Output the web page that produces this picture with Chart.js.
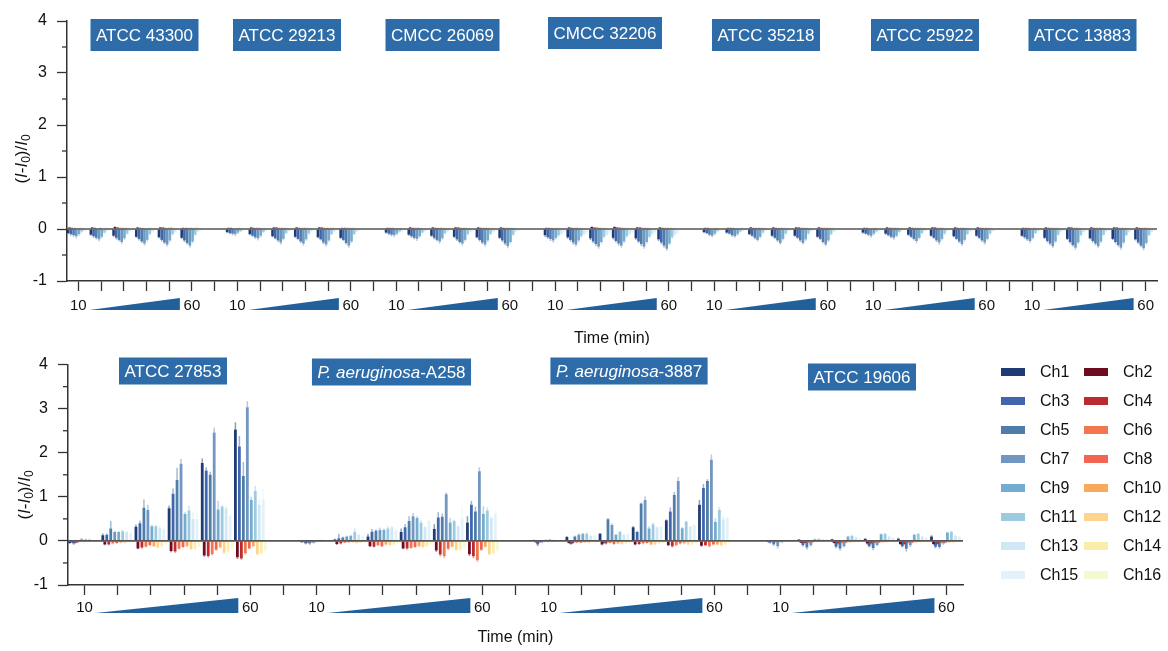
<!DOCTYPE html>
<html>
<head>
<meta charset="utf-8">
<title>Channel response by strain</title>
<script src="https://cdn.jsdelivr.net/npm/chart.js@4.4.1/dist/chart.umd.min.js"></script>
<style>
  html, body { margin: 0; padding: 0; background: #fff; }
  #wrap { position: relative; width: 1168px; height: 651px; }
  .panel { position: absolute; left: 0; width: 1168px; }
  #topPanel { top: 0; height: 345px; }
  #bottomPanel { top: 345px; height: 306px; }
</style>
</head>
<body>
<div id="wrap">
  <div class="panel" id="topPanel"><canvas id="topChart"></canvas></div>
  <div class="panel" id="bottomPanel"><canvas id="bottomChart"></canvas></div>
</div>
<script>
const FONT = '"Liberation Sans", Arial, Helvetica, sans-serif';

const timePoints = [10, 20, 30, 40, 50, 60];
const channels = ['Ch1', 'Ch2', 'Ch3', 'Ch4', 'Ch5', 'Ch6', 'Ch7', 'Ch8',
                  'Ch9', 'Ch10', 'Ch11', 'Ch12', 'Ch13', 'Ch14', 'Ch15', 'Ch16'];
const channelColors = ['#1f3b73', '#6e0b20', '#3f66ae', '#bb2a2e', '#4e7ea8', '#f2774e', '#7196c1', '#f26552',
                       '#72acce', '#f6aa5c', '#9ecae0', '#fdd38d', '#d0e8f5', '#faedaa', '#e5f1f8', '#f5f9d3'];

// strain names, each as text parts [text, italic]
const topStrains = [
  [['ATCC 43300', false]], [['ATCC 29213', false]], [['CMCC 26069', false]], [['CMCC 32206', false]],
  [['ATCC 35218', false]], [['ATCC 25922', false]], [['ATCC 13883', false]]
];
const bottomStrains = [
  [['ATCC 27853', false]],
  [['P. aeruginosa', true], ['-A258', false]],
  [['P. aeruginosa', true], ['-3887', false]],
  [['ATCC 19606', false]]
];

// (I-I0)/I0 per time point (rows) and channel (columns)
const atcc43300 = [
  [-0.08, 0.03, -0.10, 0.02, -0.12, 0.02, -0.14, 0.01, -0.10, 0.02, -0.05, 0.02, -0.03, 0.01, -0.02, 0.01],
  [-0.11, 0.03, -0.14, 0.02, -0.17, 0.01, -0.20, 0.02, -0.15, 0.01, -0.07, 0.02, -0.03, 0.01, -0.02, 0.01],
  [-0.13, 0.04, -0.17, 0.03, -0.21, 0.02, -0.25, 0.02, -0.18, 0.02, -0.09, 0.02, -0.04, 0.01, -0.02, 0.01],
  [-0.15, 0.03, -0.19, 0.02, -0.24, 0.02, -0.28, 0.01, -0.21, 0.02, -0.10, 0.02, -0.04, 0.02, -0.02, 0.01],
  [-0.16, 0.03, -0.21, 0.03, -0.26, 0.02, -0.30, 0.02, -0.22, 0.03, -0.10, 0.02, -0.05, 0.01, -0.02, 0.01],
  [-0.17, 0.02, -0.22, 0.02, -0.27, 0.02, -0.32, 0.02, -0.24, 0.02, -0.11, 0.03, -0.05, 0.01, -0.03, 0.01]
];
const atcc29213 = [
  [-0.06, 0.02, -0.08, 0.02, -0.09, 0.01, -0.10, 0.01, -0.07, 0.02, -0.04, 0.01, -0.02, 0.01, -0.01, 0.01],
  [-0.10, 0.03, -0.13, 0.02, -0.16, 0.02, -0.18, 0.02, -0.13, 0.01, -0.06, 0.02, -0.03, 0.01, -0.02, 0.01],
  [-0.14, 0.03, -0.18, 0.03, -0.22, 0.02, -0.26, 0.02, -0.19, 0.02, -0.08, 0.02, -0.04, 0.01, -0.02, 0.01],
  [-0.15, 0.03, -0.19, 0.02, -0.24, 0.02, -0.28, 0.02, -0.20, 0.02, -0.09, 0.02, -0.04, 0.01, -0.02, 0.01],
  [-0.16, 0.03, -0.20, 0.03, -0.26, 0.02, -0.30, 0.02, -0.22, 0.02, -0.10, 0.03, -0.05, 0.01, -0.02, 0.01],
  [-0.17, 0.02, -0.21, 0.02, -0.27, 0.02, -0.32, 0.02, -0.24, 0.02, -0.10, 0.02, -0.05, 0.01, -0.03, 0.01]
];
const cmcc26069 = [
  [-0.07, 0.02, -0.09, 0.02, -0.11, 0.02, -0.12, 0.01, -0.09, 0.01, -0.05, 0.02, -0.03, 0.01, -0.02, 0.01],
  [-0.11, 0.03, -0.14, 0.02, -0.17, 0.02, -0.19, 0.02, -0.14, 0.02, -0.07, 0.01, -0.04, 0.01, -0.02, 0.01],
  [-0.13, 0.03, -0.17, 0.02, -0.21, 0.02, -0.24, 0.02, -0.18, 0.02, -0.08, 0.02, -0.04, 0.01, -0.02, 0.01],
  [-0.15, 0.03, -0.20, 0.03, -0.25, 0.02, -0.28, 0.02, -0.21, 0.02, -0.10, 0.02, -0.05, 0.01, -0.03, 0.01],
  [-0.16, 0.03, -0.21, 0.02, -0.26, 0.02, -0.30, 0.02, -0.22, 0.02, -0.10, 0.02, -0.05, 0.01, -0.03, 0.01],
  [-0.17, 0.03, -0.22, 0.02, -0.28, 0.02, -0.33, 0.02, -0.25, 0.02, -0.11, 0.02, -0.05, 0.01, -0.03, 0.01]
];
const cmcc32206 = [
  [-0.12, 0.02, -0.16, 0.02, -0.19, 0.02, -0.22, 0.01, -0.17, 0.02, -0.12, 0.02, -0.09, 0.01, -0.06, 0.01],
  [-0.16, 0.03, -0.21, 0.02, -0.26, 0.02, -0.30, 0.02, -0.22, 0.02, -0.14, 0.02, -0.10, 0.01, -0.07, 0.01],
  [-0.18, 0.04, -0.24, 0.03, -0.29, 0.03, -0.34, 0.02, -0.25, 0.02, -0.15, 0.02, -0.11, 0.01, -0.08, 0.01],
  [-0.17, 0.04, -0.23, 0.03, -0.28, 0.03, -0.32, 0.02, -0.24, 0.02, -0.14, 0.02, -0.10, 0.02, -0.07, 0.01],
  [-0.18, 0.03, -0.24, 0.03, -0.29, 0.02, -0.34, 0.02, -0.25, 0.02, -0.15, 0.02, -0.10, 0.01, -0.07, 0.01],
  [-0.20, 0.03, -0.26, 0.02, -0.32, 0.02, -0.38, 0.02, -0.28, 0.02, -0.16, 0.02, -0.11, 0.01, -0.08, 0.01]
];
const atcc35218 = [
  [-0.06, 0.02, -0.08, 0.02, -0.11, 0.01, -0.13, 0.01, -0.09, 0.02, -0.04, 0.01, -0.02, 0.01, -0.01, 0.01],
  [-0.07, 0.02, -0.09, 0.02, -0.12, 0.02, -0.14, 0.01, -0.10, 0.01, -0.05, 0.02, -0.03, 0.01, -0.02, 0.01],
  [-0.10, 0.03, -0.13, 0.02, -0.17, 0.02, -0.21, 0.02, -0.15, 0.02, -0.07, 0.02, -0.03, 0.01, -0.02, 0.01],
  [-0.13, 0.03, -0.17, 0.02, -0.22, 0.02, -0.27, 0.02, -0.19, 0.02, -0.09, 0.02, -0.04, 0.01, -0.02, 0.01],
  [-0.13, 0.03, -0.17, 0.03, -0.22, 0.02, -0.27, 0.02, -0.20, 0.02, -0.09, 0.02, -0.04, 0.01, -0.02, 0.01],
  [-0.15, 0.03, -0.19, 0.02, -0.25, 0.02, -0.30, 0.02, -0.22, 0.02, -0.10, 0.02, -0.05, 0.01, -0.03, 0.01]
];
const atcc25922 = [
  [-0.07, 0.02, -0.09, 0.02, -0.11, 0.01, -0.13, 0.01, -0.09, 0.02, -0.05, 0.01, -0.03, 0.01, -0.02, 0.01],
  [-0.09, 0.03, -0.12, 0.02, -0.15, 0.02, -0.17, 0.02, -0.13, 0.02, -0.06, 0.02, -0.03, 0.01, -0.02, 0.01],
  [-0.11, 0.03, -0.15, 0.02, -0.19, 0.02, -0.23, 0.02, -0.17, 0.02, -0.08, 0.02, -0.04, 0.01, -0.02, 0.01],
  [-0.13, 0.03, -0.17, 0.03, -0.22, 0.02, -0.26, 0.02, -0.19, 0.02, -0.09, 0.02, -0.04, 0.01, -0.02, 0.01],
  [-0.14, 0.03, -0.19, 0.02, -0.24, 0.02, -0.29, 0.02, -0.21, 0.02, -0.10, 0.02, -0.05, 0.01, -0.03, 0.01],
  [-0.13, 0.03, -0.17, 0.02, -0.22, 0.02, -0.26, 0.02, -0.19, 0.02, -0.09, 0.02, -0.04, 0.01, -0.02, 0.01]
];
const atcc13883 = [
  [-0.13, 0.02, -0.16, 0.02, -0.20, 0.02, -0.23, 0.01, -0.17, 0.02, -0.08, 0.02, -0.04, 0.01, -0.02, 0.01],
  [-0.17, 0.03, -0.23, 0.02, -0.28, 0.02, -0.33, 0.02, -0.24, 0.02, -0.11, 0.02, -0.05, 0.01, -0.03, 0.01],
  [-0.19, 0.03, -0.25, 0.03, -0.31, 0.02, -0.36, 0.02, -0.26, 0.02, -0.12, 0.02, -0.06, 0.01, -0.03, 0.01],
  [-0.18, 0.03, -0.23, 0.02, -0.28, 0.02, -0.33, 0.02, -0.24, 0.02, -0.11, 0.02, -0.05, 0.01, -0.03, 0.01],
  [-0.19, 0.03, -0.25, 0.03, -0.31, 0.02, -0.36, 0.02, -0.26, 0.02, -0.12, 0.02, -0.06, 0.01, -0.03, 0.01],
  [-0.20, 0.03, -0.26, 0.02, -0.32, 0.02, -0.37, 0.02, -0.27, 0.02, -0.12, 0.02, -0.06, 0.01, -0.03, 0.01]
];

// error per channel for the top strains
const err43300 = [0.02, 0.01, 0.03, 0.01, 0.03, 0.01, 0.04, 0.01, 0.03, 0.01, 0.02, 0.01, 0.02, 0.01, 0.01, 0.01];
const err29213 = [0.02, 0.01, 0.02, 0.01, 0.03, 0.01, 0.04, 0.01, 0.03, 0.01, 0.02, 0.01, 0.01, 0.01, 0.01, 0.01];
const err26069 = [0.02, 0.01, 0.03, 0.01, 0.03, 0.01, 0.04, 0.01, 0.03, 0.01, 0.02, 0.01, 0.02, 0.01, 0.01, 0.01];
const err32206 = [0.03, 0.01, 0.03, 0.01, 0.04, 0.01, 0.04, 0.01, 0.03, 0.01, 0.03, 0.01, 0.02, 0.01, 0.02, 0.01];
const err35218 = [0.02, 0.01, 0.02, 0.01, 0.03, 0.01, 0.03, 0.01, 0.03, 0.01, 0.02, 0.01, 0.01, 0.01, 0.01, 0.01];
const err25922 = [0.02, 0.01, 0.02, 0.01, 0.03, 0.01, 0.04, 0.01, 0.03, 0.01, 0.02, 0.01, 0.01, 0.01, 0.01, 0.01];
const err13883 = [0.02, 0.01, 0.03, 0.01, 0.03, 0.01, 0.04, 0.01, 0.03, 0.01, 0.02, 0.01, 0.02, 0.01, 0.01, 0.01];

const atcc27853 = [
  [-0.05, -0.03, -0.06, -0.04, -0.03, -0.02, 0.04, -0.02, 0.03, -0.01, 0.03, -0.01, 0.02, -0.01, 0.02, -0.01],
  [0.13, -0.08, 0.14, -0.08, 0.28, -0.06, 0.20, -0.05, 0.20, -0.04, 0.22, -0.04, 0.20, -0.03, 0.18, -0.02],
  [0.32, -0.17, 0.40, -0.15, 0.75, -0.13, 0.70, -0.10, 0.33, -0.12, 0.33, -0.15, 0.30, -0.12, 0.27, -0.08],
  [0.74, -0.23, 1.07, -0.24, 1.38, -0.18, 1.75, -0.14, 0.61, -0.12, 0.69, -0.19, 0.50, -0.18, 0.50, -0.12],
  [1.77, -0.33, 1.60, -0.34, 1.50, -0.30, 2.46, -0.20, 0.71, -0.15, 0.78, -0.27, 0.74, -0.24, 0.57, -0.18],
  [2.53, -0.37, 2.14, -0.40, 1.47, -0.28, 3.03, -0.17, 0.93, -0.12, 1.13, -0.30, 0.82, -0.28, 0.94, -0.22]
];
const err27853 = [
  [0.02, 0.01, 0.03, 0.02, 0.02, 0.01, 0.03, 0.01, 0.02, 0.01, 0.02, 0.01, 0.01, 0.01, 0.01, 0.01],
  [0.04, 0.02, 0.03, 0.02, 0.17, 0.02, 0.03, 0.02, 0.02, 0.01, 0.03, 0.02, 0.02, 0.01, 0.03, 0.01],
  [0.05, 0.02, 0.06, 0.03, 0.19, 0.02, 0.12, 0.02, 0.03, 0.02, 0.03, 0.02, 0.05, 0.02, 0.04, 0.01],
  [0.06, 0.03, 0.12, 0.03, 0.28, 0.02, 0.11, 0.02, 0.04, 0.02, 0.11, 0.02, 0.15, 0.02, 0.17, 0.02],
  [0.10, 0.03, 0.07, 0.04, 0.07, 0.03, 0.11, 0.02, 0.20, 0.02, 0.03, 0.03, 0.06, 0.03, 0.03, 0.02],
  [0.16, 0.04, 0.24, 0.03, 0.32, 0.03, 0.14, 0.02, 0.07, 0.02, 0.12, 0.03, 0.13, 0.03, 0.24, 0.02]
];
const paA258 = [
  [-0.03, -0.02, -0.06, -0.03, -0.06, -0.03, -0.04, -0.02, 0.01, -0.01, 0.02, -0.01, 0.01, -0.01, 0.01, -0.01],
  [0.03, -0.07, 0.06, -0.06, 0.08, -0.04, 0.10, -0.03, 0.12, -0.03, 0.20, -0.05, 0.14, -0.04, 0.10, -0.03],
  [0.10, -0.12, 0.21, -0.13, 0.23, -0.10, 0.25, -0.12, 0.25, -0.08, 0.28, -0.10, 0.31, -0.08, 0.24, -0.06],
  [0.20, -0.17, 0.31, -0.17, 0.45, -0.16, 0.56, -0.14, 0.52, -0.12, 0.42, -0.14, 0.31, -0.12, 0.45, -0.08],
  [0.27, -0.22, 0.53, -0.31, 0.55, -0.35, 1.06, -0.18, 0.42, -0.13, 0.45, -0.20, 0.33, -0.20, 0.49, -0.15],
  [0.42, -0.30, 0.82, -0.35, 0.67, -0.44, 1.58, -0.20, 0.61, -0.13, 0.69, -0.30, 0.52, -0.28, 0.62, -0.22]
];
const errA258 = [
  [0.01, 0.01, 0.02, 0.02, 0.03, 0.01, 0.02, 0.01, 0.01, 0.01, 0.01, 0.01, 0.01, 0.01, 0.01, 0.01],
  [0.02, 0.02, 0.10, 0.02, 0.02, 0.01, 0.02, 0.01, 0.02, 0.01, 0.08, 0.01, 0.02, 0.01, 0.03, 0.01],
  [0.06, 0.02, 0.06, 0.02, 0.03, 0.02, 0.05, 0.02, 0.03, 0.02, 0.05, 0.02, 0.03, 0.02, 0.06, 0.01],
  [0.08, 0.02, 0.07, 0.03, 0.11, 0.02, 0.07, 0.02, 0.04, 0.02, 0.05, 0.02, 0.03, 0.02, 0.05, 0.02],
  [0.11, 0.03, 0.12, 0.04, 0.07, 0.04, 0.04, 0.03, 0.10, 0.02, 0.03, 0.03, 0.03, 0.03, 0.29, 0.02],
  [0.14, 0.04, 0.09, 0.04, 0.11, 0.04, 0.09, 0.03, 0.18, 0.02, 0.07, 0.03, 0.04, 0.03, 0.07, 0.03]
];
const pa3887 = [
  [0.02, -0.03, -0.08, -0.03, -0.03, -0.02, 0.02, -0.02, 0.03, -0.01, 0.02, -0.01, 0.01, -0.01, 0.01, -0.01],
  [0.09, -0.05, -0.07, -0.05, 0.10, -0.04, 0.14, -0.04, 0.16, -0.03, 0.16, -0.04, 0.12, -0.03, 0.12, -0.03],
  [0.16, -0.08, -0.05, -0.06, 0.49, -0.05, 0.36, -0.07, 0.14, -0.06, 0.21, -0.07, 0.14, -0.06, 0.16, -0.05],
  [0.31, -0.08, 0.20, -0.07, 0.85, -0.06, 0.93, -0.05, 0.28, -0.08, 0.38, -0.08, 0.31, -0.06, 0.32, -0.05],
  [0.47, -0.10, 0.67, -0.12, 1.04, -0.10, 1.36, -0.06, 0.29, -0.06, 0.44, -0.08, 0.32, -0.08, 0.36, -0.06],
  [0.82, -0.11, 1.20, -0.10, 1.36, -0.12, 1.84, -0.08, 0.43, -0.08, 0.70, -0.10, 0.49, -0.08, 0.52, -0.05]
];
const err3887 = [
  [0.01, 0.01, 0.04, 0.01, 0.02, 0.01, 0.02, 0.01, 0.01, 0.01, 0.01, 0.01, 0.01, 0.01, 0.01, 0.01],
  [0.02, 0.01, 0.02, 0.02, 0.02, 0.01, 0.03, 0.01, 0.02, 0.01, 0.03, 0.01, 0.02, 0.01, 0.02, 0.01],
  [0.02, 0.02, 0.02, 0.02, 0.03, 0.01, 0.04, 0.02, 0.02, 0.01, 0.02, 0.02, 0.02, 0.01, 0.02, 0.01],
  [0.03, 0.02, 0.03, 0.02, 0.02, 0.02, 0.08, 0.01, 0.05, 0.02, 0.04, 0.02, 0.02, 0.01, 0.02, 0.01],
  [0.02, 0.02, 0.09, 0.03, 0.07, 0.02, 0.09, 0.02, 0.02, 0.02, 0.02, 0.02, 0.02, 0.02, 0.02, 0.01],
  [0.11, 0.02, 0.09, 0.02, 0.04, 0.03, 0.12, 0.02, 0.08, 0.02, 0.07, 0.02, 0.07, 0.02, 0.04, 0.01]
];
const atcc19606 = [
  [0.01, -0.02, -0.04, -0.02, -0.08, -0.03, -0.12, -0.02, -0.03, -0.01, 0.02, -0.01, 0.02, -0.01, 0.02, -0.01],
  [0.03, -0.04, -0.10, -0.05, -0.15, -0.04, -0.10, -0.03, 0.04, -0.02, 0.05, -0.02, 0.04, -0.01, 0.03, -0.01],
  [0.04, -0.05, -0.13, -0.06, -0.17, -0.05, -0.12, -0.04, 0.10, -0.03, 0.12, -0.03, 0.08, -0.02, 0.06, -0.02],
  [0.05, -0.06, -0.12, -0.06, -0.16, -0.05, -0.09, -0.04, 0.15, -0.03, 0.16, -0.03, 0.10, -0.02, 0.07, -0.02],
  [0.05, -0.07, -0.12, -0.07, -0.18, -0.05, -0.10, -0.04, 0.14, -0.03, 0.16, -0.03, 0.10, -0.02, 0.08, -0.02],
  [0.10, -0.07, -0.13, -0.07, -0.14, -0.05, -0.06, -0.04, 0.19, -0.03, 0.21, -0.03, 0.12, -0.02, 0.10, -0.02]
];
const err19606 = [
  [0.01, 0.01, 0.02, 0.01, 0.03, 0.01, 0.05, 0.01, 0.02, 0.01, 0.01, 0.01, 0.01, 0.01, 0.01, 0.01],
  [0.01, 0.01, 0.03, 0.01, 0.05, 0.01, 0.03, 0.01, 0.01, 0.01, 0.01, 0.01, 0.01, 0.01, 0.01, 0.01],
  [0.01, 0.01, 0.04, 0.02, 0.05, 0.01, 0.03, 0.01, 0.02, 0.01, 0.02, 0.01, 0.02, 0.01, 0.01, 0.01],
  [0.01, 0.02, 0.03, 0.02, 0.05, 0.01, 0.03, 0.01, 0.02, 0.01, 0.02, 0.01, 0.02, 0.01, 0.01, 0.01],
  [0.02, 0.02, 0.03, 0.02, 0.06, 0.01, 0.04, 0.01, 0.02, 0.01, 0.02, 0.01, 0.02, 0.01, 0.01, 0.01],
  [0.03, 0.02, 0.04, 0.02, 0.04, 0.01, 0.03, 0.01, 0.02, 0.01, 0.02, 0.01, 0.02, 0.01, 0.01, 0.01]
];

const topValues = [atcc43300, atcc29213, cmcc26069, cmcc32206, atcc35218, atcc25922, atcc13883];
const topErrors = [err43300, err29213, err26069, err32206, err35218, err25922, err13883];
const bottomValues = [atcc27853, paA258, pa3887, atcc19606];
const bottomErrors = [err27853, errA258, err3887, err19606];

// one slot per time point and an empty spacer slot between strains
function buildSlots(values) {
  const slots = [];
  values.forEach((rows, s) => {
    rows.forEach((row, t) => slots.push({ s, t }));
    if (s < values.length - 1) slots.push(null);
  });
  return slots;
}

// neighbouring channel bars overlap a little, as in the original plot
function buildDatasets(values, slots, errAt, overlap) {
  return channels.map((name, c) => ({
    label: name,
    data: slots.map(k => k ? values[k.s][k.t][c] : null),
    errors: slots.map(k => k ? errAt(k.s, k.t, c) : 0),
    backgroundColor: channelColors[c],
    borderWidth: 0,
    categoryPercentage: 0.96,
    barPercentage: overlap
  }));
}

function drawParts(ctx, parts, cx, cy, size) {
  let total = 0;
  parts.forEach(p => {
    ctx.font = (p[1] ? 'italic ' : '') + size + 'px ' + FONT;
    total += ctx.measureText(p[0]).width;
  });
  let x = cx - total / 2;
  parts.forEach(p => {
    ctx.font = (p[1] ? 'italic ' : '') + size + 'px ' + FONT;
    ctx.fillText(p[0], x, cy);
    x += ctx.measureText(p[0]).width;
  });
  return total;
}

const panelDecor = {
  id: 'panelDecor',
  afterDatasetsDraw(chart, args, o) {
    const { ctx, chartArea: a, scales: { y } } = chart;
    ctx.save();
    // error bars in a paler tone of the bar colour
    chart.data.datasets.forEach((ds, di) => {
      chart.getDatasetMeta(di).data.forEach((bar, i) => {
        const v = ds.data[i];
        if (v == null) return;
        const end = y.getPixelForValue(v + (v < 0 ? -ds.errors[i] : ds.errors[i]));
        const w = bar.width * 0.55;
        ctx.globalAlpha = 0.5;
        ctx.fillStyle = ds.backgroundColor;
        ctx.fillRect(bar.x - w / 2, Math.min(bar.y, end), w, Math.abs(end - bar.y));
      });
    });
    ctx.globalAlpha = 1;
    const y0 = y.getPixelForValue(0);
    ctx.strokeStyle = '#555';
    ctx.lineWidth = 1.6;
    ctx.beginPath();
    ctx.moveTo(a.left, y0);
    ctx.lineTo(a.right, y0);
    ctx.stroke();
    ctx.restore();
  },
  afterDraw(chart, args, o) {
    const { ctx, chartArea: a, scales: { x, y } } = chart;
    ctx.save();

    // minor y ticks
    ctx.strokeStyle = '#333';
    ctx.lineWidth = 1.3;
    [-0.5, 0.5, 1.5, 2.5, 3.5].forEach(v => {
      const py = y.getPixelForValue(v);
      ctx.beginPath();
      ctx.moveTo(a.left - 5, py);
      ctx.lineTo(a.left, py);
      ctx.stroke();
    });

    // time wedges from 10 to 60 min under each strain
    ctx.fillStyle = '#22609c';
    o.slots.forEach((k, i) => {
      if (!k || k.t !== 0) return;
      const x0 = x.getPixelForValue(i) + 11;
      const x1 = x.getPixelForValue(i + timePoints.length - 1) - 12;
      ctx.beginPath();
      ctx.moveTo(x0, a.bottom + o.wedgeLow);
      ctx.lineTo(x1, a.bottom + o.wedgeLow);
      ctx.lineTo(x1, a.bottom + o.wedgeHigh);
      ctx.closePath();
      ctx.fill();
    });

    // strain name boxes
    ctx.textBaseline = 'middle';
    o.strains.forEach((parts, s) => {
      const spot = o.boxes[s];
      let total = 0;
      parts.forEach(p => {
        ctx.font = (p[1] ? 'italic ' : '') + '17px ' + FONT;
        total += ctx.measureText(p[0]).width;
      });
      const w = total + 11;
      ctx.fillStyle = '#2e6ca9';
      ctx.fillRect(spot[0] - w / 2, spot[1] - o.boxH / 2, w, o.boxH);
      ctx.fillStyle = '#fff';
      drawParts(ctx, parts, spot[0], spot[1] + 1, 17);
    });

    // axis titles
    ctx.fillStyle = '#111';
    ctx.textAlign = 'left';
    ctx.font = '16px ' + FONT;
    const tw = ctx.measureText('Time (min)').width;
    ctx.fillText('Time (min)', (a.left + a.right) / 2 - tw / 2, o.timeY);

    ctx.translate(o.yTitle[0], o.yTitle[1]);
    ctx.rotate(-Math.PI / 2);
    const pieces = [['(', 0], ['I', 1], ['-', 0], ['I', 1], ['0', 2], [')/', 0], ['I', 1], ['0', 2]];
    const fontOf = p => p[1] === 1 ? 'italic 17px ' + FONT : p[1] === 2 ? '12px ' + FONT : '17px ' + FONT;
    let len = 0;
    pieces.forEach(p => { ctx.font = fontOf(p); len += ctx.measureText(p[0]).width; });
    let px = -len / 2;
    pieces.forEach(p => {
      ctx.font = fontOf(p);
      ctx.fillText(p[0], px, p[1] === 2 ? 5 : 0);
      px += ctx.measureText(p[0]).width;
    });
    ctx.setTransform(1, 0, 0, 1, 0, 0);

    // channel legend: odd channels left, even channels right
    if (o.legend) {
      const L = o.legend;
      ctx.font = '16px ' + FONT;
      ctx.textBaseline = 'middle';
      channels.forEach((name, c) => {
        const col = c % 2, row = Math.floor(c / 2);
        const sx = col ? L.x2 : L.x1;
        const sy = L.y0 + row * L.step;
        ctx.fillStyle = channelColors[c];
        ctx.fillRect(sx, sy - 4, 24, 8);
        ctx.fillStyle = '#111';
        ctx.fillText(name, sx + 39, sy + 1);
      });
    }
    ctx.restore();
  }
};

function makePanel(id, values, strains, errAt, layout) {
  const slots = buildSlots(values);
  const tickText = slots.map(k => !k ? '' : k.t === 0 ? String(timePoints[0]) :
    k.t === timePoints.length - 1 ? String(timePoints[timePoints.length - 1]) : '');
  return new Chart(document.getElementById(id), {
    type: 'bar',
    data: { labels: slots.map((k, i) => String(i)), datasets: buildDatasets(values, slots, errAt, layout.overlap) },
    plugins: [panelDecor],
    options: {
      responsive: true,
      maintainAspectRatio: false,
      animation: false,
      events: [],
      layout: { padding: layout.padding },
      plugins: {
        legend: { display: false },
        tooltip: { enabled: false },
        panelDecor: Object.assign({ slots, strains }, layout.decor)
      },
      scales: {
        x: {
          offset: true,
          grid: { offset: false, drawOnChartArea: false, tickLength: 10, tickColor: '#333', tickWidth: 1.3 },
          border: { display: true, color: '#333', width: 1.5 },
          ticks: {
            autoSkip: false, maxRotation: 0, minRotation: 0, padding: layout.tickPad,
            color: '#111', font: { family: FONT, size: 15 },
            callback: (v, i) => tickText[i]
          },
          afterFit: s => { s.height = layout.xHeight; }
        },
        y: {
          min: -1,
          max: 4,
          grid: { drawOnChartArea: false, tickLength: 10, tickColor: '#333', tickWidth: 1.3 },
          border: { display: true, color: '#333', width: 1.5 },
          ticks: { stepSize: 1, padding: 10, color: '#111', font: { family: FONT, size: 16 } },
          afterFit: s => { s.width = layout.yWidth; }
        }
      }
    }
  });
}

makePanel('topChart', topValues, topStrains, (s, t, c) => topErrors[s][c], {
  padding: { top: 21, right: 11, bottom: 0, left: 0 },
  xHeight: 64,
  yWidth: 67,
  tickPad: 6,
  overlap: 1.9,
  decor: {
    wedgeLow: 29, wedgeHigh: 17, boxH: 32, timeY: 339, yTitle: [22, 159],
    boxes: [[144.5, 35], [287, 35], [442.5, 35], [605, 33], [766, 35], [925, 35], [1082.5, 35]]
  }
});

makePanel('bottomChart', bottomValues, bottomStrains, (s, t, c) => bottomErrors[s][t][c], {
  padding: { top: 11, right: 205, bottom: 0, left: 0 },
  xHeight: 66,
  yWidth: 68,
  tickPad: 4,
  overlap: 1.4,
  decor: {
    wedgeLow: 28, wedgeHigh: 13, boxH: 27, timeY: 293, yTitle: [25, 150],
    boxes: [[173, 26], [391.5, 27], [629, 26], [862, 32]],
    legend: { x1: 1001, x2: 1084, y0: 27, step: 29 }
  }
});
</script>
</body>
</html>
